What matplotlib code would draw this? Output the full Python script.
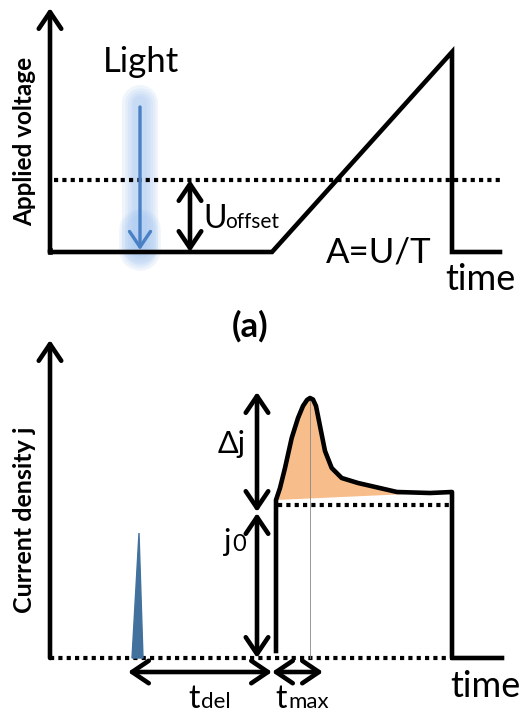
import matplotlib
matplotlib.use("Agg")
import matplotlib.pyplot as plt
from matplotlib.patches import FancyArrowPatch

plt.rcParams['font.family'] = ['Lato', 'Open Sans', 'DejaVu Sans']

# ---- panel (a): applied voltage vs time (schematic units) ----
volt_t = [0, 222, 402, 402, 450]
volt_u = [0, 0, 200, 0, 0]
u_offset = 72
volt_axis_top = 244
light_t = 90
light_top = 145

# ---- panel (b): current density vs time ----
spike_t = [82, 89, 93]
spike_j = [0, 125, 0]
curr_t = [226, 226, 230, 235, 241.7, 248, 253, 257, 260, 263, 266, 270, 275,
          281.7, 291.7, 308, 347, 380, 402, 402, 452]
curr_j = [7, 158, 170, 190, 220, 240, 252, 258, 260, 258.5, 252, 232, 207,
          190, 180, 175, 166, 165, 166, 0, 0]
peak_t, peak_j = 260, 260
j0 = 153
t_rise = 226
t_off = 402
curr_axis_top = 318

BLACK = 'black'
LW = 3.3


def arrow(ax, p0, p1, style='->', color=BLACK, lw=LW, ms=30, z=3):
    ax.add_patch(FancyArrowPatch(p0, p1,
                                 arrowstyle=f'{style},head_length=0.4,head_width=0.27',
                                 mutation_scale=ms, color=color, lw=lw,
                                 shrinkA=0, shrinkB=0, capstyle='round',
                                 joinstyle='round', zorder=z))


fig = plt.figure(figsize=(5.22, 7.15), dpi=100)
ax1 = fig.add_axes([0, 1 - 330 / 715, 1, 330 / 715])
ax2 = fig.add_axes([0, 0, 1, 385 / 715])
ax1.set_xlim(-50, 472)
ax1.set_ylim(-78, 252)
ax2.set_xlim(-50, 472)
ax2.set_ylim(-57, 328)
for ax in (ax1, ax2):
    ax.axis('off')

# ---------- top panel ----------
ax1.plot(volt_t, volt_u, color=BLACK, lw=LW, solid_joinstyle='miter', zorder=3)
arrow(ax1, (0, 0), (0, volt_axis_top))
ax1.plot([0, 0], [0, 2], color=BLACK, lw=LW)
ax1.plot([4, 452], [u_offset, u_offset], color=BLACK, lw=3,
         linestyle=(0, (1, 1)), dash_capstyle='butt', zorder=2)
arrow(ax1, (140, 0), (140, u_offset), style='<->')

# light arrow with soft glow
for w in [26, 22, 18, 14, 10]:
    ax1.plot([light_t, light_t], [light_top + 4, 6], color='#9CC2F0', lw=w,
             alpha=0.15, solid_capstyle='round', zorder=1)
for w in [30, 26, 22]:
    ax1.plot([light_t, light_t], [22, 2], color='#9CC2F0', lw=w,
             alpha=0.15, solid_capstyle='round', zorder=1)
arrow(ax1, (light_t, light_top), (light_t, 2), color='#4A80C4', lw=2.4, ms=28, z=2)

ax1.text(53, 180, 'Light', fontsize=25, va='baseline', ha='left')
ax1.text(153, 24, 'U', fontsize=23, va='baseline', ha='left')
ax1.text(175, 24, 'offset', fontsize=15, va='baseline', ha='left')
ax1.text(276, -11, 'A=U/T', fontsize=25, va='baseline', ha='left')
ax1.text(395, -38, 'time', fontsize=26, va='baseline', ha='left')
ax1.text(-25, 111, 'Applied voltage', fontsize=17.5, fontweight='bold',
         rotation=90, ha='center', va='center')

fig.text(250 / 522, 1 - 326 / 715, '(a)', fontsize=25, fontweight='bold',
         ha='center', va='center')

# ---------- bottom panel ----------
arrow(ax2, (0, 0), (0, curr_axis_top))
ax2.plot([0, t_off], [0, 0], color=BLACK, lw=3, linestyle=(0, (1, 1)),
         dash_capstyle='butt', zorder=2)
ax2.fill(spike_t, spike_j, color='#41719C', zorder=2)
ax2.fill(curr_t[1:19], curr_j[1:19], color='#F7BD8B', zorder=1, lw=0)
ax2.plot(curr_t, curr_j, color=BLACK, lw=LW, zorder=3)
ax2.plot([t_rise + 2, t_off], [j0, j0], color=BLACK, lw=3, linestyle=(0, (1, 1)),
         dash_capstyle='butt', zorder=2)
ax2.plot([peak_t, peak_t], [0, peak_j], color='#888888', lw=0.6, zorder=2)

arrow(ax2, (207, j0 - 7), (207, 266), style='<->')
arrow(ax2, (207, 0), (207, j0 - 8), style='<->')
arrow(ax2, (78, -14), (222, -14), style='<->')
arrow(ax2, (222, -14), (273, -14), style='<->')

ax2.text(168, 205, 'Δj', fontsize=22, va='baseline', ha='left')
ax2.text(173, 107, 'j', fontsize=22, va='baseline', ha='left')
ax2.text(182, 107, '0', fontsize=17, va='baseline', ha='left')
ax2.text(138, -50, 't', fontsize=23, va='baseline', ha='left')
ax2.text(151, -50, 'del', fontsize=16, va='baseline', ha='left')
ax2.text(225, -50, 't', fontsize=23, va='baseline', ha='left')
ax2.text(238, -50, 'max', fontsize=16, va='baseline', ha='left')
ax2.text(400, -39, 'time', fontsize=26, va='baseline', ha='left')
ax2.text(-25, 138, 'Current density j', fontsize=18, fontweight='bold',
         rotation=90, ha='center', va='center')

fig.savefig('out.png', dpi=100)
